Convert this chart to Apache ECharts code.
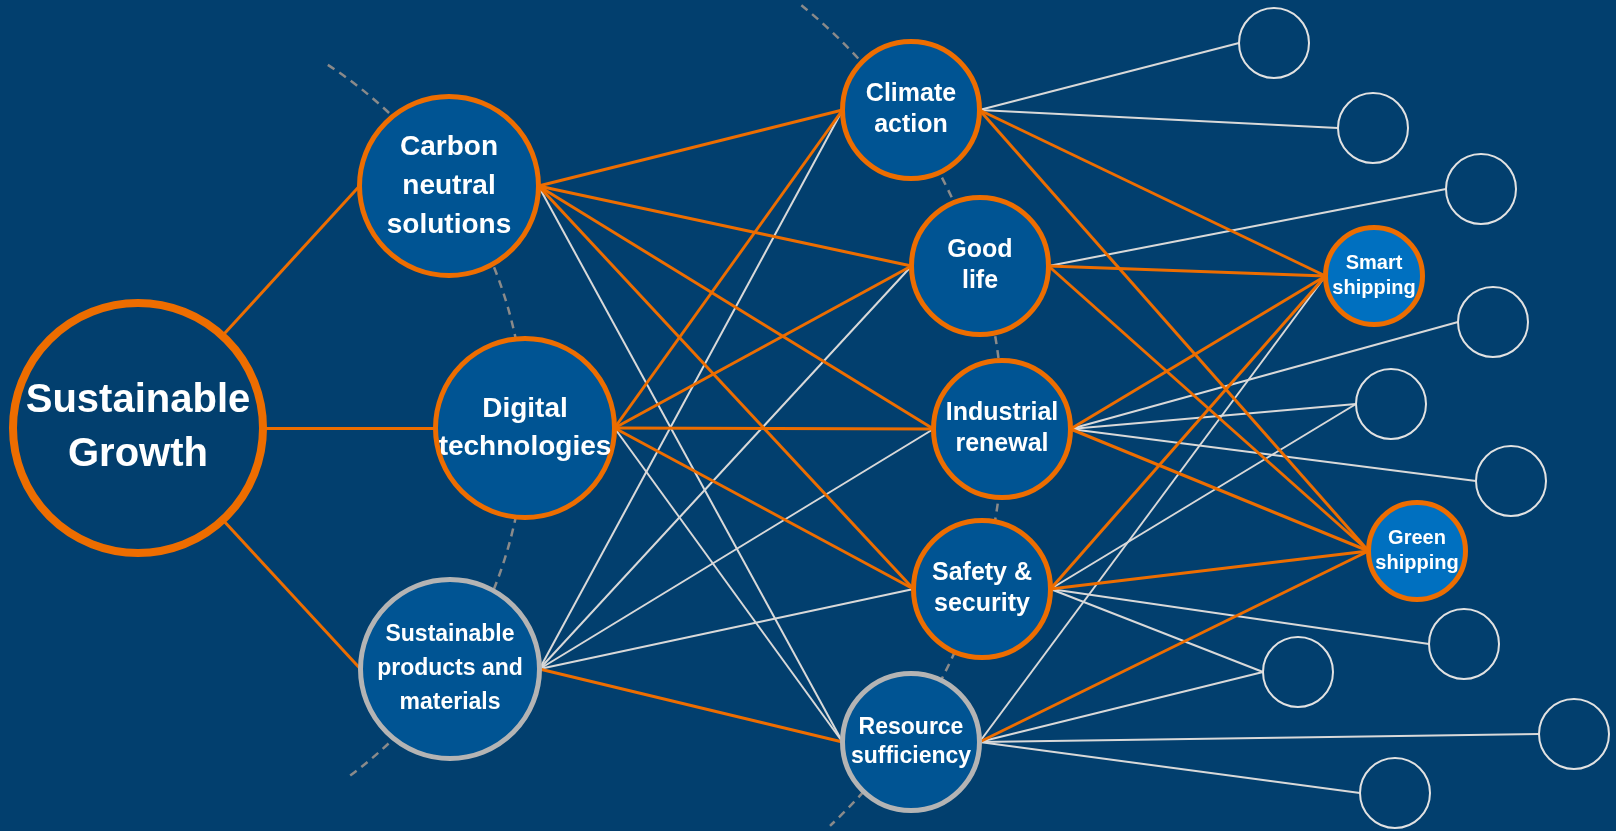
<!DOCTYPE html>
<html>
<head>
<meta charset="utf-8">
<script src="https://cdn.jsdelivr.net/npm/echarts@6/dist/echarts.min.js"></script>
<style>
html,body{margin:0;padding:0;background:#023f6e;overflow:hidden;}
#chart{width:1616px;height:831px;}
</style>
</head>
<body>
<div id="chart"></div>
<script>
// ---- DATA ----
const nodeNames = [
  'Sustainable\nGrowth',
  'Carbon\nneutral\nsolutions', 'Digital\ntechnologies', 'Sustainable\nproducts and\nmaterials',
  'Climate\naction', 'Good\nlife', 'Industrial\nrenewal', 'Safety &\nsecurity', 'Resource\nsufficiency',
  'Smart\nshipping', 'Green\nshipping',
  '', '', '', '', '', '', '', '', '', ''
];
const nodeLevel = [0, 1, 1, 1, 2, 2, 2, 2, 2, 3, 3, 4, 4, 4, 4, 4, 4, 4, 4, 4, 4];
const nodeRing  = ['orange', 'orange', 'orange', 'grey', 'orange', 'orange', 'orange', 'orange', 'grey',
                   'orange', 'orange', 'white', 'white', 'white', 'white', 'white', 'white', 'white', 'white', 'white', 'white'];
const nodeX = [138, 449, 525, 450, 911, 980, 1002, 982, 911, 1374, 1417, 1274, 1373, 1481, 1493, 1391, 1511, 1464, 1298, 1574, 1395];
const nodeY = [428, 186, 428, 669, 110, 266, 429, 589, 742, 276, 551, 43, 128, 189, 322, 404, 481, 644, 672, 734, 793];

const linkSource = [0,0,0, 1,1,1,1,1, 2,2,2,2,2, 3,3,3,3,3, 4,4,4,4, 5,5,5, 6,6,6,6,6, 7,7,7,7,7, 8,8,8,8,8];
const linkTarget = [1,2,3, 4,5,6,7,8, 4,5,6,7,8, 4,5,6,7,8, 11,12,9,10, 13,9,10, 9,14,15,16,10, 9,10,15,17,18, 9,10,18,19,20];
const linkOrange = [1,1,1, 1,1,1,1,0, 1,1,1,1,0, 0,0,0,0,1, 0,0,1,1, 0,1,1, 1,0,0,0,1, 1,1,0,0,0, 0,1,0,0,0];

// dashed guide arcs: centre x, centre y, radius, start angle, end angle (degrees)
const arcCX = [92, 459];
const arcCY = [428, 428];
const arcR = [433, 544];
const arcStart = [-57, -51];
const arcEnd = [54, 47];

// ---- STYLES ----
const COLORS = {
  bg: '#023f6e', orange: '#ed6d00', grey: '#b4b4b4', white: '#e2e2e2',
  line: '#d9d9d9', arc: '#8a8a8a'
};
const levelStyle = [
  { outer: 129, border: 8, fill: '#023f6e', font: 40, lh: 54 },
  { outer: 92,  border: 5, fill: '#005493', font: 28, lh: 39 },
  { outer: 71,  border: 5, fill: '#005493', font: 25, lh: 31 },
  { outer: 51,  border: 5, fill: '#0070c0', font: 20, lh: 25 },
  { outer: 36,  border: 2, fill: '#023f6e', font: 12, lh: 14 }
];
const fontOverride = { 2: [28, 38], 3: [23, 34], 8: [23, 29] };

function pathR(i) { const s = levelStyle[nodeLevel[i]]; return s.outer - s.border / 2; }

// ---- BUILD ----
const nodeData = nodeNames.map((n, i) => {
  const s = levelStyle[nodeLevel[i]];
  const f = fontOverride[i] || [s.font, s.lh];
  return {
    name: n,
    value: [nodeX[i], nodeY[i]],
    symbolSize: 2 * pathR(i),
    itemStyle: { color: s.fill, borderColor: COLORS[nodeRing[i]], borderWidth: s.border, opacity: 1 },
    label: { fontSize: f[0], lineHeight: f[1] }
  };
});

function linkData(orange) {
  const out = [];
  for (let k = 0; k < linkSource.length; k++) {
    if (linkOrange[k] !== orange) continue;
    const s = linkSource[k], t = linkTarget[k];
    const sx = nodeLevel[s] === 0 ? nodeX[s] : nodeX[s] + pathR(s);
    const tx = nodeX[t] - pathR(t);
    out.push({ coords: [[sx, nodeY[s]], [tx, nodeY[t]]] });
  }
  return out;
}

const arcData = arcCX.map((x, i) => [x, arcCY[i], arcR[i], arcStart[i], arcEnd[i]]);

const chart = echarts.init(document.getElementById('chart'), null, { renderer: 'canvas' });
chart.setOption({
  backgroundColor: COLORS.bg,
  animation: false,
  grid: { left: 0, right: 0, top: 0, bottom: 0 },
  xAxis: { type: 'value', min: 0, max: 1616, show: false },
  yAxis: { type: 'value', min: 0, max: 831, inverse: true, show: false },
  series: [
    {
      type: 'custom', coordinateSystem: 'cartesian2d', z: 1, silent: true, clip: false,
      data: arcData,
      encode: { x: 0, y: 1 },
      renderItem: function (params, api) {
        const c = api.coord([api.value(0), api.value(1)]);
        const r = api.size([api.value(2), 0])[0];
        return {
          type: 'arc',
          shape: { cx: c[0], cy: c[1], r: r,
                   startAngle: api.value(3) * Math.PI / 180,
                   endAngle: api.value(4) * Math.PI / 180, clockwise: true },
          style: { stroke: COLORS.arc, lineWidth: 2.5, lineDash: [8, 6], fill: 'none' }
        };
      }
    },
    {
      type: 'lines', coordinateSystem: 'cartesian2d', z: 2, silent: true,
      lineStyle: { color: COLORS.line, width: 2, opacity: 1 },
      data: linkData(0)
    },
    {
      type: 'lines', coordinateSystem: 'cartesian2d', z: 3, silent: true,
      lineStyle: { color: COLORS.orange, width: 3, opacity: 1 },
      data: linkData(1)
    },
    {
      type: 'scatter', coordinateSystem: 'cartesian2d', z: 5, silent: true,
      symbol: 'circle',
      itemStyle: { opacity: 1 },
      emphasis: { disabled: true },
      label: {
        show: true, position: 'inside', color: '#ffffff', fontWeight: 'bold',
        fontFamily: '"Liberation Sans", Arial, sans-serif', align: 'center',
        formatter: p => p.name
      },
      data: nodeData
    }
  ]
});
</script>
</body>
</html>
